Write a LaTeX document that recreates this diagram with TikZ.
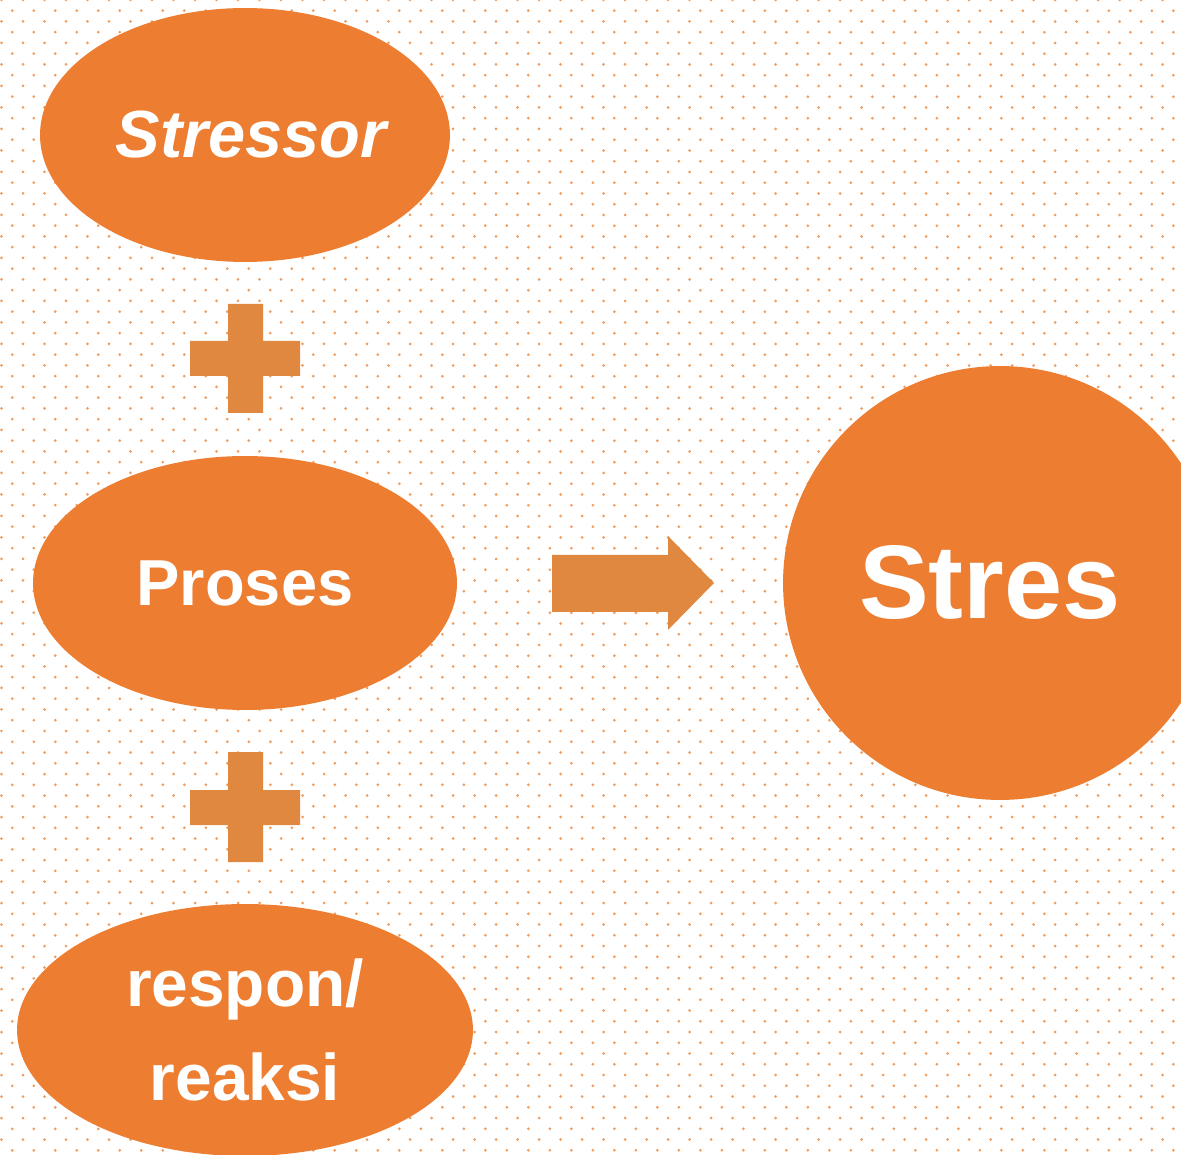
\documentclass[tikz,border=0pt]{standalone}
\usepackage{fontspec}
\setsansfont{Liberation Sans}
\usetikzlibrary{shapes.geometric}
\definecolor{blobfill}{HTML}{ED7D31}
\definecolor{signfill}{HTML}{E0883F}
\definecolor{dotfill}{HTML}{EF9D5E}
\tikzset{
  blob/.style={ellipse, fill=blobfill, inner sep=0pt, text=white, font=\sffamily\bfseries, align=center},
  sign/.style={fill=signfill, draw=none}
}
\begin{document}
\begin{tikzpicture}[x=0.02cm, y=-0.02cm]
        \useasboundingbox (0,0) rectangle (1181,1155);
        \clip (0,0) rectangle (1181,1155);
        % dotted paper
        \foreach \r in {0,...,108} {
          \pgfmathsetmacro{\off}{mod(\r,2)*10.75}
          \foreach \c in {0,...,55}
            \fill[dotfill] (\off+\c*21.5+1.5, \r*10.75) circle (1.5);
        }

        \node[blob, minimum width=8.2cm, minimum height=5.08cm, font=\sffamily\bfseries\itshape\fontsize{38}{44}\selectfont] (stressor) at (245,135) {\hspace*{0.25cm}Stressor};
        \node[blob, minimum width=8.48cm, minimum height=5.08cm, font=\sffamily\bfseries\fontsize{37}{44}\selectfont] (proses) at (245,583) {Proses};
        \node[blob, minimum width=9.12cm, minimum height=5.04cm, font=\sffamily\bfseries\fontsize{37.5}{53}\selectfont] (respon) at (245,1030) {respon/\\reaksi};
        \node[blob, circle, minimum size=8.68cm, font=\sffamily\bfseries\fontsize{59.5}{66}\selectfont] (stres) at (1000,583) {\hspace*{-0.4cm}Stres};

        % plus signs
        \fill[sign] (228,304) -- (263,304) -- (263,341) -- (300,341) -- (300,376) -- (263,376)
          -- (263,413) -- (228,413) -- (228,376) -- (190,376) -- (190,341) -- (228,341) -- cycle;
        \fill[sign] (228,752) -- (263,752) -- (263,790) -- (300,790) -- (300,825) -- (263,825)
          -- (263,862) -- (228,862) -- (228,825) -- (190,825) -- (190,790) -- (228,790) -- cycle;

        % arrow
        \fill[sign] (552,555) -- (668,555) -- (668,536) -- (714,583) -- (668,630) -- (668,612) -- (552,612) -- cycle;
\end{tikzpicture}
\end{document}
